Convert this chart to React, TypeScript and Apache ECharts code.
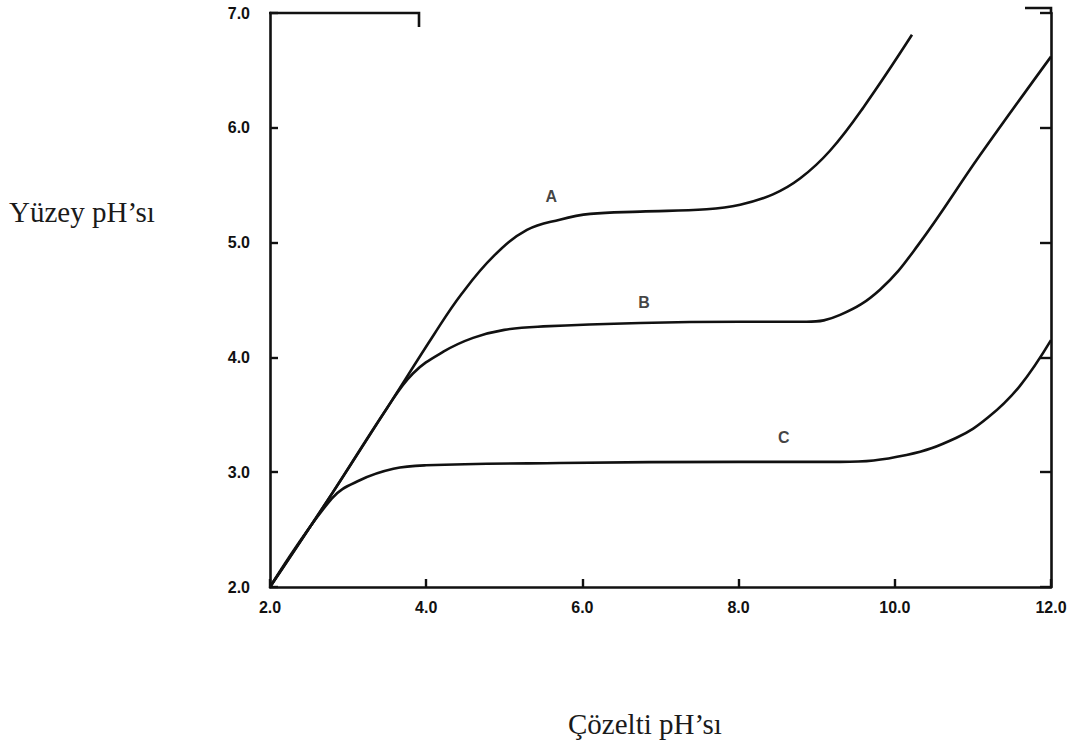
import React, { useEffect, useRef } from "react";
import * as echarts from "echarts";

const xTicks = [2, 4, 6, 8, 10, 12];
const yTicks = [2, 3, 4, 5, 6, 7];

const curveA: [number, number][] = [
  [2.0, 2.0], [2.8, 2.82], [3.5, 3.56], [4.1, 4.2], [4.45, 4.55], [4.86, 4.88],
  [5.29, 5.11], [5.71, 5.2], [6.1, 5.25], [6.74, 5.27], [7.59, 5.29], [8.02, 5.33],
  [8.44, 5.42], [8.79, 5.56], [9.17, 5.8], [9.6, 6.18], [10.22, 6.81],
];

const curveB: [number, number][] = [
  [2.0, 2.0], [2.8, 2.82], [3.5, 3.56], [3.83, 3.86], [4.22, 4.05], [4.6, 4.17],
  [5.0, 4.24], [5.5, 4.27], [6.74, 4.3], [8.02, 4.31], [8.87, 4.31], [9.3, 4.37],
  [9.81, 4.59], [10.3, 4.98], [11.09, 5.76], [12.0, 6.62],
];

const curveC: [number, number][] = [
  [2.0, 2.0], [2.79, 2.77], [3.15, 2.93], [3.58, 3.03], [4.0, 3.06], [5.71, 3.08],
  [8.0, 3.09], [9.3, 3.09], [10.15, 3.15], [10.79, 3.3], [11.2, 3.48], [11.6, 3.75],
  [12.0, 4.15],
];

const curveLabels: { name: string; x: number; y: number }[] = [
  { name: "A", x: 5.6, y: 5.4 },
  { name: "B", x: 6.79, y: 4.48 },
  { name: "C", x: 8.58, y: 3.3 },
];

const yTitle = "Yüzey pH’sı";
const xTitle = "Çözelti pH’sı";

export default function App() {
  const ref = useRef<HTMLDivElement>(null);
  useEffect(() => {
    if (!ref.current) return;
    const chart = echarts.init(ref.current, null, { renderer: "svg" });
    const ink = "#111";
    const lineStyle = { color: ink, width: 2.6 };
    const labelFont = {
      fontFamily: "Liberation Sans, Arial, sans-serif",
      fontWeight: "bold" as const,
      fontSize: 16,
      color: ink,
    };
    const mkSeries = (data: [number, number][]) => ({
      type: "line",
      data,
      smooth: 0.4,
      showSymbol: false,
      symbol: "none",
      lineStyle,
      z: 3,
    });
    chart.setOption({
      animation: false,
      backgroundColor: "#fff",
      grid: { left: 270, right: 24, top: 13, bottom: 160 },
      xAxis: {
        type: "value",
        min: 2,
        max: 12,
        interval: 2,
        axisLine: { show: true, onZero: false, lineStyle: { color: ink, width: 2.6 } },
        axisTick: { show: true, inside: true, length: 8, lineStyle: { color: ink, width: 2.4 } },
        axisLabel: { ...labelFont, margin: 12, formatter: (v: number) => v.toFixed(1) },
        splitLine: { show: false },
      },
      yAxis: [
        {
          type: "value",
          min: 2,
          max: 7,
          interval: 1,
          position: "left",
          axisLine: { show: true, onZero: false, lineStyle: { color: ink, width: 2.6 } },
          axisTick: { show: true, inside: true, length: 8, lineStyle: { color: ink, width: 2.4 } },
          axisLabel: { ...labelFont, margin: 20, formatter: (v: number) => v.toFixed(1) },
          splitLine: { show: false },
        },
        {
          type: "value",
          min: 2,
          max: 7,
          interval: 1,
          position: "right",
          axisLine: { show: true, onZero: false, lineStyle: { color: ink, width: 2.6 } },
          axisTick: { show: true, inside: true, length: 11, lineStyle: { color: ink, width: 2.4 } },
          axisLabel: { show: false },
          splitLine: { show: false },
        },
      ],
      series: [
        mkSeries(curveA),
        mkSeries(curveB),
        mkSeries(curveC),
        {
          type: "scatter",
          data: curveLabels.map((l) => ({ value: [l.x, l.y], name: l.name })),
          symbolSize: 0,
          label: {
            show: true,
            position: "inside",
            formatter: (p: any) => p.name,
            ...labelFont,
            fontSize: 16,
          },
          z: 4,
        },
      ],
      graphic: [
        {
          type: "polyline",
          shape: { points: [[269, 13], [419, 13], [419, 27]] },
          style: { stroke: ink, lineWidth: 2.6, fill: "none" },
        },
        {
          type: "polyline",
          shape: { points: [[1025, 8], [1051, 8], [1051, 14]] },
          style: { stroke: ink, lineWidth: 2.6, fill: "none" },
        },
        {
          type: "text",
          left: 9,
          top: 197,
          style: {
            text: yTitle,
            font: "29px 'Liberation Serif', 'Times New Roman', serif",
            fill: "#1a1a1a",
          },
        },
        {
          type: "text",
          left: 568,
          top: 709,
          style: {
            text: xTitle,
            font: "29px 'Liberation Serif', 'Times New Roman', serif",
            fill: "#1a1a1a",
          },
        },
      ],
    });
    return () => chart.dispose();
  }, []);
  return (
    <div
      ref={ref}
      style={{ position: "fixed", left: 0, top: 0, width: 1075, height: 747 }}
    />
  );
}
